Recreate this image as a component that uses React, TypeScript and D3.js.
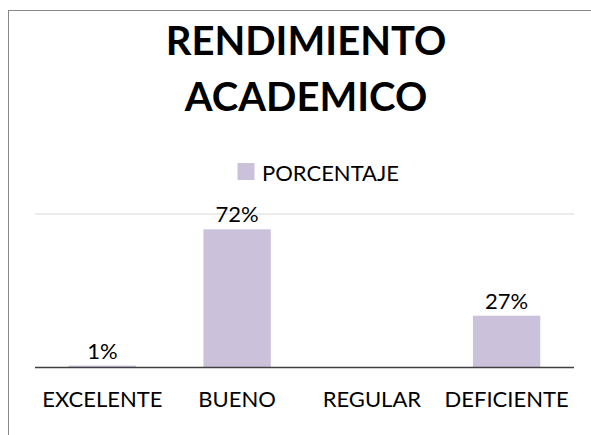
import React from "react";
import * as d3 from "d3";

const categories = ["EXCELENTE", "BUENO", "REGULAR", "DEFICIENTE"];
const porcentaje = [0.01, 0.72, 0, 0.27];
const valueLabels = ["1%", "72%", "", "27%"];
const gridTicks = [0.8];
const seriesName = "PORCENTAJE";
const titleLines = ["RENDIMIENTO", "ACADEMICO"];

const W = 591;
const H = 435;
const FONT = "Lato, 'Open Sans', sans-serif";
const BAR = "#ccc1da";

export default function App() {
  // plot area
  const x = d3.scaleBand<string>().domain(categories).range([35, 574]).paddingInner(0.5).paddingOuter(0.25);
  const y = d3.scaleLinear().domain([0, 0.8]).range([367.5, 214]);

  return (
    <svg width={W} height={H} style={{ position: "absolute", left: 0, top: 0, background: "#fff" }}>
      {/* chart frame, cut off at right and bottom */}
      <rect x={8.5} y={10.5} width={W + 20} height={H + 20} fill="#fff" stroke="#878787" strokeWidth={1} />

      {/* title */}
      <g fontFamily={FONT} fontWeight={700} fontSize={40} textAnchor="middle" fill="#000">
        {titleLines.map((t, i) => (
          <text key={t} x={306} y={55 + i * 55.5}>{t}</text>
        ))}
      </g>

      {/* legend */}
      <rect x={237.5} y={163} width={17} height={17} fill={BAR} />
      <text x={262} y={180.5} fontFamily={FONT} fontSize={22} fill="#000">{seriesName}</text>

      {/* gridlines */}
      {gridTicks.map((t) => (
        <line key={t} x1={35} x2={574} y1={y(t)} y2={y(t)} stroke="#d9d9d9" strokeWidth={1} />
      ))}

      {/* bars */}
      {categories.map((c, i) => (
        <rect key={c} x={x(c)} y={y(porcentaje[i])} width={x.bandwidth()} height={y(0) - y(porcentaje[i])} fill={BAR} />
      ))}

      {/* axis line */}
      <line x1={35} x2={574} y1={y(0)} y2={y(0)} stroke="#404040" strokeWidth={1.5} />

      {/* value labels */}
      <g fontFamily={FONT} fontSize={22} textAnchor="middle" fill="#000">
        {categories.map((c, i) =>
          valueLabels[i] ? (
            <text key={c} x={x(c)! + x.bandwidth() / 2} y={y(porcentaje[i]) - 7}>{valueLabels[i]}</text>
          ) : null
        )}
      </g>

      {/* category labels */}
      <g fontFamily={FONT} fontSize={22} textAnchor="middle" fill="#000">
        {categories.map((c) => (
          <text key={c} x={x(c)! + x.bandwidth() / 2} y={406.5}>{c}</text>
        ))}
      </g>
    </svg>
  );
}
